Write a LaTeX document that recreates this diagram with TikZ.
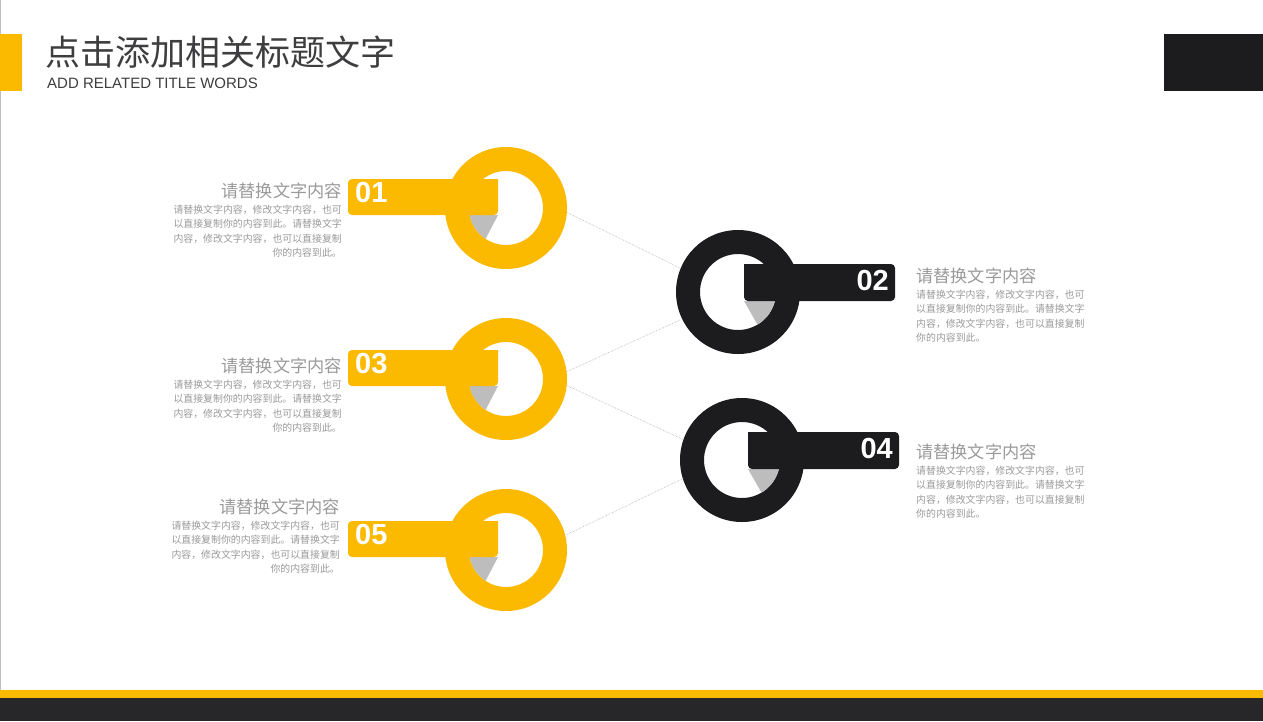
\documentclass[tikz,border=0pt]{standalone}
\usepackage{fontspec}
\newfontfamily\cjk{Noto Sans CJK SC}
\newfontfamily\arial{Liberation Sans}
\definecolor{yel}{HTML}{FBBA00}
\definecolor{blk}{HTML}{1C1C1E}
\definecolor{txt}{HTML}{9A9A9A}
\definecolor{wedge}{HTML}{BDBDBD}
\begin{document}
\begin{tikzpicture}[x=1pt,y=-1pt,
 head/.style={font=\cjk\fontsize{17.2}{18}\selectfont,text=txt,inner sep=0pt},
 body/.style={font=\cjk\fontsize{9.9}{14.3}\selectfont,text=txt,inner sep=0pt},
 num/.style={font=\arial\bfseries\fontsize{29}{29}\selectfont,text=white,inner sep=0pt},
 conn/.style={draw=gray!60,densely dotted,line width=0.6pt}]
\useasboundingbox (0,0) rectangle (1263,721);
\fill[white] (0,0) rectangle (1263,721);
\draw[gray!50,line width=1pt] (0.5,0) -- (0.5,690);
% header
\fill[yel] (0,34) rectangle (22,91);
\fill[blk] (1164,34) rectangle (1263,91);
\node[anchor=west,inner sep=0pt,font=\cjk\fontsize{35}{35}\selectfont,text=blk!85] (title) at (45,52) {点击添加相关标题文字};
\node[anchor=west,inner sep=0pt,font=\arial\fontsize{15}{15}\selectfont,text=blk!85] (sub) at (47,83) {ADD RELATED TITLE WORDS};
% footer
\fill[yel] (0,690) rectangle (1263,698);
\fill[blk!95] (0,698) rectangle (1263,721);
% left rings
\foreach \n/\cy in {01/208,03/379,05/550}{
  \fill[yel,even odd rule] (506,\cy) circle (61) (506,\cy) circle (37);
  \begin{scope}
   \clip (506,\cy) circle (37);
   \fill[wedge] (498,\cy+7) -- (455,\cy+7) -- (455,\cy+70) -- (472,\cy+57) -- cycle;
  \end{scope}
  \fill[yel,rounded corners=4pt] (498,\cy-29) -- (348,\cy-29) -- (348,\cy+7) -- (498,\cy+7) [sharp corners] -- cycle;
  \node[num,anchor=west] (n\n) at (355,\cy-15) {\n};
}
% right rings
\foreach \n/\cx/\cy in {02/738/292,04/742/460}{
  \fill[blk,even odd rule] (\cx,\cy) circle (62) (\cx,\cy) circle (38);
  \begin{scope}
   \clip (\cx,\cy) circle (38);
   \fill[wedge] (\cx+6,\cy+9) -- (\cx+60,\cy+9) -- (\cx+60,\cy+70) -- (\cx+38,\cy+65) -- cycle;
  \end{scope}
  \fill[blk,rounded corners=4pt] (\cx+6,\cy-28) -- (\cx+157,\cy-28) -- (\cx+157,\cy+9) -- (\cx+6,\cy+9) [sharp corners] -- cycle;
  \node[num,anchor=east] (n\n) at (\cx+151,\cy-11) {\n};
}
% connectors
\coordinate (a1) at (566,212); \coordinate (b2) at (680,268);
\coordinate (a3) at (566,372); \coordinate (b2b) at (680,320);
\coordinate (a3b) at (566,385); \coordinate (b4) at (684,440);
\coordinate (a5) at (566,535); \coordinate (b4b) at (684,478);
\draw[conn] (a1) -- (b2); \draw[conn] (a3) -- (b2b);
\draw[conn] (a3b) -- (b4); \draw[conn] (a5) -- (b4b);
% texts left
\foreach \y/\x/\k in {191/342/1,366/342/3,507/340/5}{
 \node[head,anchor=east] (h\k) at (\x,\y) {请替换文字内容};
 \node[body,anchor=north east,align=right] (t\k) at (\x,\y+14) {请替换文字内容，修改文字内容，也可\\以直接复制你的内容到此。请替换文字\\内容，修改文字内容，也可以直接复制\\你的内容到此。};
}
\foreach \y/\k in {276/2,452/4}{
 \node[head,anchor=west] (h\k) at (916,\y) {请替换文字内容};
 \node[body,anchor=north west,align=left] (t\k) at (916,\y+14) {请替换文字内容，修改文字内容，也可\\以直接复制你的内容到此。请替换文字\\内容，修改文字内容，也可以直接复制\\你的内容到此。};
}
\end{tikzpicture}
\end{document}
